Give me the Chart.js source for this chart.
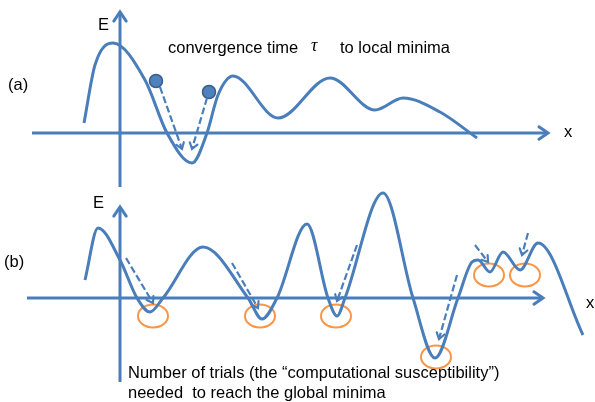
<!DOCTYPE html>
<html lang="en">
<head>
    <meta charset="UTF-8">
    <title>Energy landscape</title>
    <script src="https://cdn.jsdelivr.net/npm/chart.js@4.4.1/dist/chart.umd.min.js"></script>
    <style>
        body {
            margin: 0;
            background: #ffffff;
        }
        .wrap {
            width: 595px;
            height: 402px;
            position: relative;
        }
    </style>
</head>
<body>
    <div class="wrap">
        <canvas id="landscape"></canvas>
    </div>

    <script>
        // energy curve (a): x positions and E values (page units, y grows downward)
        const curveAx = [84, 95, 113, 145, 167, 192, 207, 218, 233, 278, 330, 375, 403, 440, 477];
        const curveAy = [123, 65, 43, 80, 133, 163, 133, 95, 76, 118, 78, 110, 98, 112, 138];

        // energy curve (b)
        const curveBx = [85, 98, 120, 137, 150, 163, 203, 248, 262, 277, 307, 328, 337, 345, 383, 413, 435, 458, 472, 478, 490, 503, 520, 538, 583];
        const curveBy = [280, 228, 260, 298, 312, 298, 247, 298, 319, 298, 224, 298, 316, 298, 193, 298, 358, 298, 262, 260, 272, 252, 270, 243, 335];

        // axes: [x0, y0, x1, y1], the arrow points at the second end
        const axesA = [[32, 133, 548, 133], [120, 187, 120, 12]];
        const axesB = [[27, 298, 543, 298], [120, 382, 120, 207]];

        // starting states (balls) in (a)
        const ballsX = [156, 209];
        const ballsY = [81, 92];

        // descent paths
        const descentA = [[160, 87, 182, 149], [207, 98, 192, 149]];
        const descentB = [[126, 258, 153, 303], [232, 263, 258, 308], [357, 245, 337, 301], [457, 275, 439, 339], [475, 245, 488, 262], [528, 233, 522, 255]];

        // minima reached in (b)
        const minimaX = [153, 260, 336, 436, 489, 525];
        const minimaY = [316, 316, 316, 357, 275, 275];

        const BLUE = '#4a7ebb';

        function pts(xs, ys) {
            return xs.map((x, i) => ({ x: x, y: ys[i] }));
        }

        function segment(s) {
            return [{ x: s[0], y: s[1] }, { x: s[2], y: s[3] }];
        }

        // orange ring used as point style for minima
        function ring() {
            const c = document.createElement('canvas');
            c.width = 34;
            c.height = 28;
            const g = c.getContext('2d');
            g.strokeStyle = '#f79646';
            g.lineWidth = 2;
            g.beginPath();
            g.ellipse(17, 14, 15, 11.5, 0, 0, Math.PI * 2);
            g.stroke();
            return c;
        }

        const datasets = [];

        datasets.push({ data: pts(curveAx, curveAy), borderColor: BLUE, borderWidth: 3, cubicInterpolationMode: 'monotone' });
        datasets.push({ data: pts(curveBx, curveBy), borderColor: BLUE, borderWidth: 3, cubicInterpolationMode: 'monotone' });

        axesA.concat(axesB).forEach(s => {
            datasets.push({ data: segment(s), borderColor: BLUE, borderWidth: 3, arrowHead: 11 });
        });

        descentA.concat(descentB).forEach(s => {
            datasets.push({ data: segment(s), borderColor: BLUE, borderWidth: 2.2, borderDash: [7, 3], arrowHead: 7 });
        });

        datasets.push({
            data: pts(ballsX, ballsY),
            showLine: false,
            pointRadius: 6.5,
            pointBackgroundColor: '#4f81bd',
            pointBorderColor: '#385d8a',
            pointBorderWidth: 1.5
        });

        datasets.push({
            data: pts(minimaX, minimaY),
            showLine: false,
            pointStyle: ring(),
            pointRadius: 14
        });

        // arrow heads at the last point of a dataset
        const arrowHeads = {
            id: 'arrowHeads',
            afterDatasetsDraw(chart) {
                const ctx = chart.ctx;
                chart.data.datasets.forEach((ds, i) => {
                    if (!ds.arrowHead) return;
                    const el = chart.getDatasetMeta(i).data;
                    const a = el[el.length - 2], b = el[el.length - 1];
                    const ang = Math.atan2(b.y - a.y, b.x - a.x);
                    const L = ds.arrowHead, spread = 0.6;
                    ctx.save();
                    ctx.strokeStyle = ds.borderColor;
                    ctx.lineWidth = ds.borderWidth;
                    ctx.lineCap = 'round';
                    ctx.lineJoin = 'miter';
                    ctx.beginPath();
                    ctx.moveTo(b.x - L * Math.cos(ang - spread), b.y - L * Math.sin(ang - spread));
                    ctx.lineTo(b.x, b.y);
                    ctx.lineTo(b.x - L * Math.cos(ang + spread), b.y - L * Math.sin(ang + spread));
                    ctx.stroke();
                    ctx.restore();
                });
            }
        };

        // labels placed in page units through the scales
        const notes = [
            { t: 'E', x: 98, y: 25 },
            { t: '(a)', x: 8, y: 85 },
            { t: 'convergence time', x: 168, y: 48 },
            { t: 'τ', x: 311, y: 46, font: 'italic 18px "Liberation Serif"' },
            { t: 'to local minima', x: 340, y: 48 },
            { t: 'x', x: 564, y: 132 },
            { t: 'E', x: 93, y: 203 },
            { t: '(b)', x: 4, y: 262 },
            { t: 'x', x: 586, y: 303 },
            { t: 'Number of trials (the \u201ccomputational susceptibility\u201d)', x: 128, y: 373 },
            { t: 'needed  to reach the global minima', x: 128, y: 393 }
        ];

        const textLayer = {
            id: 'textLayer',
            afterDraw(chart) {
                const ctx = chart.ctx;
                const sx = chart.scales.x, sy = chart.scales.y;
                ctx.save();
                ctx.fillStyle = '#000000';
                ctx.textBaseline = 'middle';
                ctx.textAlign = 'left';
                notes.forEach(n => {
                    ctx.font = n.font || '16.5px "Liberation Sans"';
                    ctx.fillText(n.t, sx.getPixelForValue(n.x), sy.getPixelForValue(n.y));
                });
                ctx.restore();
            }
        };

        new Chart(document.getElementById('landscape'), {
            type: 'scatter',
            data: { datasets: datasets },
            options: {
                responsive: true,
                maintainAspectRatio: false,
                animation: false,
                layout: { padding: 0, autoPadding: false },
                elements: {
                    point: { radius: 0, hoverRadius: 0 },
                    line: { fill: false, tension: 0 }
                },
                datasets: {
                    scatter: { showLine: true, clip: false }
                },
                scales: {
                    x: { type: 'linear', min: 0, max: 595, display: false },
                    y: { type: 'linear', min: 0, max: 402, reverse: true, display: false }
                },
                plugins: {
                    legend: { display: false },
                    tooltip: { enabled: false }
                }
            },
            plugins: [arrowHeads, textLayer]
        });
    </script>
</body>
</html>
